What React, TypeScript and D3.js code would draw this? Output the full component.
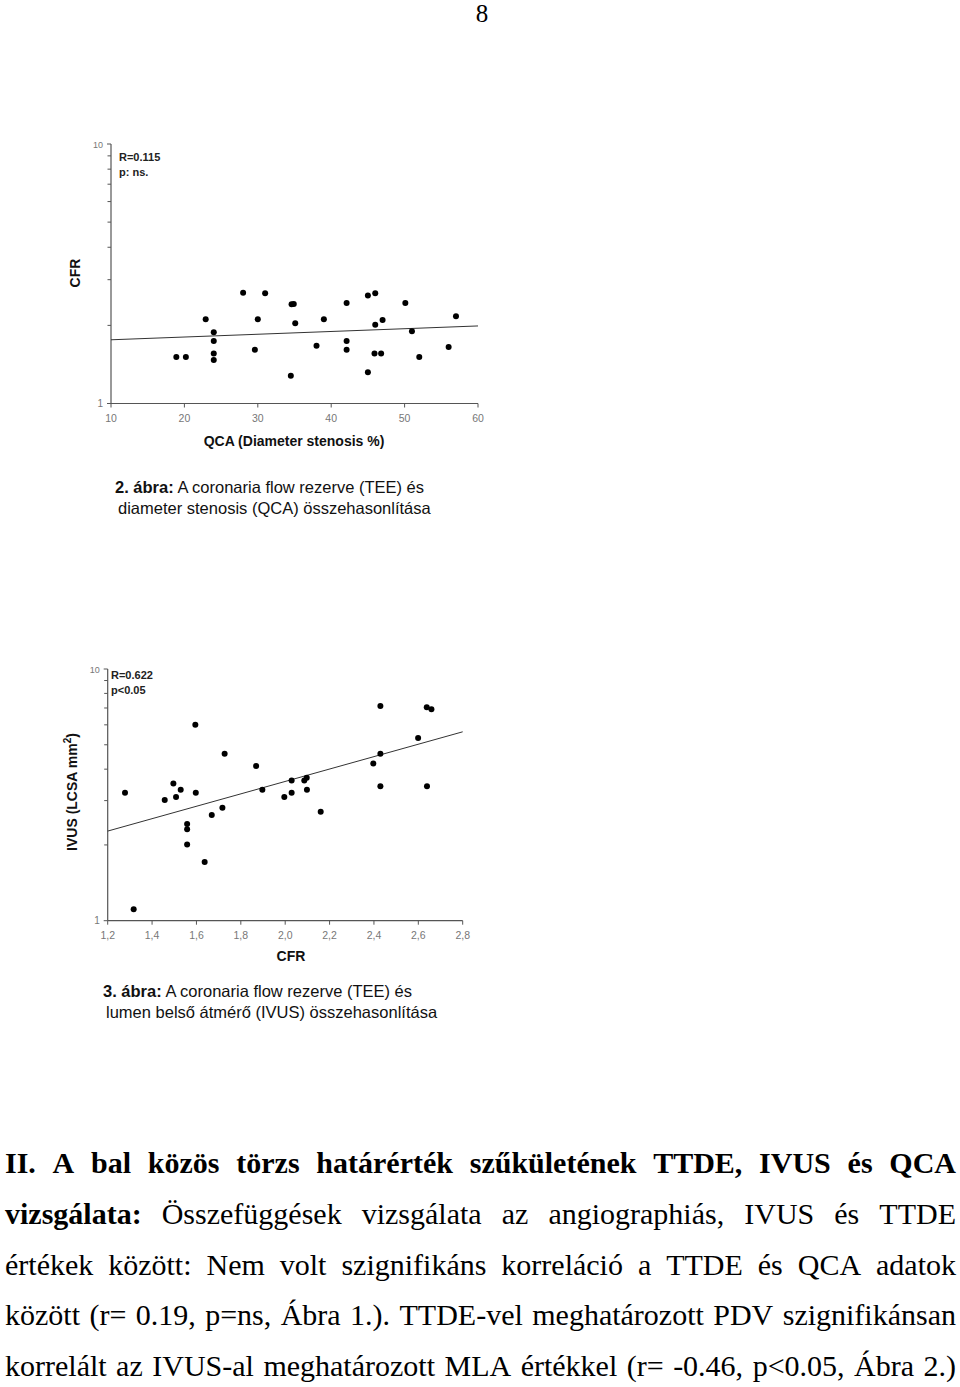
import React, { useMemo } from "react";
import * as d3 from "d3";

// ---------- Chart 1 data: CFR vs QCA ----------
const qcaX = [18.9, 20.2, 22.9, 24, 24, 24, 24, 28, 29.6, 30, 31, 34.6, 34.9, 34.5, 35.1, 38, 39, 42.1, 42.1, 42.1, 45, 45, 46, 46, 45.9, 46.8, 47, 50.1, 51, 52, 56, 57];
const cfrY = [1.51, 1.51, 2.11, 1.88, 1.74, 1.56, 1.47, 2.67, 1.61, 2.11, 2.66, 2.41, 2.42, 1.28, 2.04, 1.67, 2.11, 2.44, 1.74, 1.61, 2.61, 1.32, 2.66, 2.01, 1.56, 1.56, 2.1, 2.44, 1.9, 1.51, 1.65, 2.17];
const fit1X = [10, 60];
const fit1Y = [1.76, 1.99];
const xTicks1 = [10, 20, 30, 40, 50, 60];

// ---------- Chart 2 data: IVUS vs CFR ----------
const cfrX2 = [1.278, 1.595, 1.727, 1.869, 1.457, 1.496, 1.508, 1.529, 1.597, 1.717, 1.669, 1.897, 1.996, 2.029, 2.029, 2.086, 2.097, 2.098, 2.16, 2.397, 2.429, 2.429, 2.429, 2.599, 2.638, 2.659, 2.639, 1.558, 1.558, 1.558, 1.637, 1.317];
const ivusY = [3.22, 6.01, 4.61, 4.12, 3.02, 3.51, 3.1, 3.31, 3.22, 2.81, 2.63, 3.31, 3.1, 3.22, 3.61, 3.61, 3.7, 3.31, 2.71, 4.21, 4.61, 7.13, 3.42, 5.32, 7.05, 6.92, 3.42, 2.42, 2.31, 2.01, 1.71, 1.11];
const fit2X = [1.2, 2.8];
const fit2Y = [2.27, 5.63];
const xTicks2 = [1.2, 1.4, 1.6, 1.8, 2.0, 2.2, 2.4, 2.6, 2.8];

const yMinorTicks = [2, 3, 4, 5, 6, 7, 8, 9];
const yMajorTicks = [1, 10];

// ---------- Text ----------
const pageNumber = "8";
const caption1 = [
  [{ t: "2. ábra:", b: true }, { t: " A coronaria flow rezerve (TEE) és", b: false }],
  [{ t: "diameter stenosis (QCA) összehasonlítása", b: false }],
];
const caption2 = [
  [{ t: "3. ábra:", b: true }, { t: " A coronaria flow rezerve (TEE) és", b: false }],
  [{ t: "lumen belső átmérő (IVUS) összehasonlítása", b: false }],
];
const bodyLines = [
  [{ t: "II. A bal közös törzs határérték szűkületének TTDE, IVUS és QCA", b: true }],
  [{ t: "vizsgálata:", b: true }, { t: "Összefüggések vizsgálata az angiographiás, IVUS és TTDE", b: false }],
  [{ t: "értékek között: Nem volt szignifikáns korreláció a TTDE és QCA adatok", b: false }],
  [{ t: "között (r= 0.19, p=ns, Ábra 1.). TTDE-vel meghatározott PDV szignifikánsan", b: false }],
  [{ t: "korrelált az IVUS-al meghatározott MLA értékkel (r= -0.46, p<0.05, Ábra 2.)", b: false }],
];

const SANS = "'Liberation Sans', Arial, sans-serif";
const SERIF = "'Liberation Serif', 'Times New Roman', serif";
const AXIS = "#555";
const TICKTXT = "#777";

type ChartProps = {
  xs: number[];
  ys: number[];
  fx: number[];
  fy: number[];
  xDomain: [number, number];
  xRange: [number, number];
  yRange: [number, number];
  xTicks: number[];
  xFmt: (v: number) => string;
  statR: string;
  statP: string;
  statX: number;
  statY: number;
  xTitle: string;
  xTitleX: number;
  xTitleY: number;
  yTitle: React.ReactNode;
  yTitleX: number;
  yTitleY: number;
};

function Scatter(p: ChartProps) {
  const x = d3.scaleLinear().domain(p.xDomain).range(p.xRange);
  const y = d3.scaleLog().domain([1, 10]).range(p.yRange);
  const x0 = p.xRange[0];
  const y0 = p.yRange[0];
  const line = d3.line<number>().x((_, i) => x(p.fx[i])).y((d) => y(d));
  return (
    <g>
      <line x1={x0} x2={x0} y1={y(10)} y2={y0} stroke={AXIS} strokeWidth={1.2} />
      <line x1={x0} x2={p.xRange[1]} y1={y0} y2={y0} stroke={AXIS} strokeWidth={1.2} />
      {yMinorTicks.map((t) => (
        <line key={"m" + t} x1={x0 - 3.5} x2={x0} y1={y(t)} y2={y(t)} stroke={AXIS} strokeWidth={1} />
      ))}
      {yMajorTicks.map((t) => (
        <g key={"M" + t}>
          <line x1={x0 - 4} x2={x0} y1={y(t)} y2={y(t)} stroke={AXIS} strokeWidth={1} />
          <text x={x0 - 8} y={y(t) + 3.5} textAnchor="end" fontFamily={SANS} fontSize={t === 10 ? 9 : 10} fill={TICKTXT}>
            {t}
          </text>
        </g>
      ))}
      {p.xTicks.map((t) => (
        <g key={"x" + t}>
          <line x1={x(t)} x2={x(t)} y1={y0} y2={y0 + 4} stroke={AXIS} strokeWidth={1} />
          <text x={x(t)} y={y0 + 18} textAnchor="middle" fontFamily={SANS} fontSize={10.5} fill={TICKTXT}>
            {p.xFmt(t)}
          </text>
        </g>
      ))}
      <path d={line(p.fy) || ""} fill="none" stroke="#333" strokeWidth={1} />
      {p.xs.map((v, i) => (
        <circle key={i} cx={x(v)} cy={y(p.ys[i])} r={3} fill="#000" />
      ))}
      <text x={p.statX} y={p.statY} fontFamily={SANS} fontWeight="bold" fontSize={11} fill="#222">
        {p.statR}
      </text>
      <text x={p.statX} y={p.statY + 14.5} fontFamily={SANS} fontWeight="bold" fontSize={11} fill="#222">
        {p.statP}
      </text>
      <text x={p.xTitleX} y={p.xTitleY} textAnchor="middle" fontFamily={SANS} fontWeight="bold" fontSize={14} fill="#111">
        {p.xTitle}
      </text>
      <text
        transform={`translate(${p.yTitleX},${p.yTitleY}) rotate(-90)`}
        textAnchor="middle"
        fontFamily={SANS}
        fontWeight="bold"
        fontSize={14}
        fill="#111"
      >
        {p.yTitle}
      </text>
    </g>
  );
}

function Caption({ lines, x, y }: { lines: { t: string; b: boolean }[][]; x: number[]; y: number }) {
  return (
    <g>
      {lines.map((ln, i) => (
        <text key={i} x={x[i]} y={y + i * 21} fontFamily={SANS} fontSize={16.5} fill="#111" style={{ whiteSpace: "pre" }}>
          {ln.map((s, j) => (
            <tspan key={j} fontWeight={s.b ? "bold" : "normal"}>
              {s.t}
            </tspan>
          ))}
        </text>
      ))}
    </g>
  );
}

function Body() {
  const fontSize = 30;
  const left = 5;
  const right = 956;
  const words = useMemo(() => {
    const canvas = document.createElement("canvas");
    const ctx = canvas.getContext("2d")!;
    return bodyLines.map((segs) => {
      const ws: { t: string; b: boolean; w: number }[] = [];
      segs.forEach((s) => {
        s.t.split(" ").filter((w) => w.length).forEach((w) => {
          ctx.font = `${s.b ? "bold " : ""}${fontSize}px ${SERIF}`;
          ws.push({ t: w, b: s.b, w: ctx.measureText(w).width });
        });
      });
      const total = d3.sum(ws, (d) => d.w);
      const gap = (right - left - total) / (ws.length - 1);
      let cx = left;
      return ws.map((w) => {
        const out = { ...w, x: cx };
        cx += w.w + gap;
        return out;
      });
    });
  }, []);
  return (
    <g>
      {words.map((ln, i) =>
        ln.map((w, j) => (
          <text
            key={i + "-" + j}
            x={w.x}
            y={1173.3 + i * 50.6}
            fontFamily={SERIF}
            fontSize={fontSize}
            fontWeight={w.b ? "bold" : "normal"}
            fill="#000"
          >
            {w.t}
          </text>
        ))
      )}
    </g>
  );
}

export default function App() {
  return (
    <svg width={960} height={1387} style={{ position: "absolute", left: 0, top: 0, background: "#fff" }}>
      <rect width={960} height={1387} fill="#fff" />
      <text x={482} y={22} textAnchor="middle" fontFamily={SERIF} fontSize={25} fill="#000">
        {pageNumber}
      </text>

      <Scatter
        xs={qcaX}
        ys={cfrY}
        fx={fit1X}
        fy={fit1Y}
        xDomain={[10, 60]}
        xRange={[111, 478]}
        yRange={[403.5, 144]}
        xTicks={xTicks1}
        xFmt={(v) => String(v)}
        statR="R=0.115"
        statP="p: ns."
        statX={119}
        statY={161}
        xTitle="QCA (Diameter stenosis %)"
        xTitleX={294}
        xTitleY={446}
        yTitle="CFR"
        yTitleX={80}
        yTitleY={273}
      />
      <Caption lines={caption1} x={[115, 118]} y={493} />

      <Scatter
        xs={cfrX2}
        ys={ivusY}
        fx={fit2X}
        fy={fit2Y}
        xDomain={[1.2, 2.8]}
        xRange={[107.7, 462.7]}
        yRange={[920.7, 669]}
        xTicks={xTicks2}
        xFmt={(v) => d3.format(".1f")(v).replace(".", ",")}
        statR="R=0.622"
        statP="p<0.05"
        statX={111}
        statY={679}
        xTitle="CFR"
        xTitleX={291}
        xTitleY={961}
        yTitle={
          <>
            IVUS (LCSA mm
            <tspan fontSize={10} dy={-6}>2</tspan>
            <tspan dy={6}>)</tspan>
          </>
        }
        yTitleX={77}
        yTitleY={792}
      />
      <Caption lines={caption2} x={[103, 106]} y={997} />

      <Body />
    </svg>
  );
}
